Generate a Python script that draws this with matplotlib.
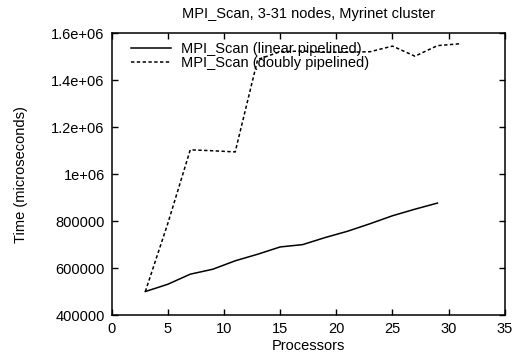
import matplotlib
matplotlib.use("Agg")
import matplotlib.pyplot as plt
from matplotlib.ticker import FixedLocator, FixedFormatter

plt.rcParams['font.family'] = ['Liberation Sans', 'DejaVu Sans']

# Processor counts and measured times (microseconds)
procs_linear = [3, 5, 7, 9, 11, 13, 15, 17, 19, 21, 23, 25, 27, 29]
time_linear = [500000, 531000, 574000, 595000, 631000, 659000, 690000,
               700000, 730000, 757000, 789000, 823000, 851000, 877000]

procs_doubly = [3, 5, 7, 9, 11, 13, 15, 17, 19, 21, 23, 25, 27, 29, 31]
time_doubly = [500000, 790000, 1104000, 1100000, 1095000, 1489000, 1522000,
               1525000, 1520000, 1520000, 1522000, 1546000, 1503000,
               1548000, 1556000]

x_ticks = [0, 5, 10, 15, 20, 25, 30, 35]
y_ticks = [400000, 600000, 800000, 1000000, 1200000, 1400000, 1600000]
y_tick_labels = ["400000", "600000", "800000", "1e+06", "1.2e+06",
                 "1.4e+06", "1.6e+06"]

FS = 10.5

fig = plt.figure(figsize=(5.12, 3.61), dpi=100)
ax = fig.add_axes([0.218, 0.1274, 0.768, 0.780])

ax.plot(procs_linear, time_linear, color='black', lw=1.1,
        label='MPI_Scan (linear pipelined)')
ax.plot(procs_doubly, time_doubly, color='black', lw=1.1,
        dashes=(2.2, 1.6), label='MPI_Scan (doubly pipelined)')

ax.set_xlim(0, 35)
ax.set_ylim(400000, 1600000)
ax.xaxis.set_major_locator(FixedLocator(x_ticks))
ax.yaxis.set_major_locator(FixedLocator(y_ticks))
ax.yaxis.set_major_formatter(FixedFormatter(y_tick_labels))

ax.tick_params(direction='in', length=4, width=1, labelsize=FS,
               top=True, right=True, pad=5)
for s in ax.spines.values():
    s.set_linewidth(1.1)

ax.set_title('MPI_Scan, 3-31 nodes, Myrinet cluster', fontsize=FS, pad=11)
ax.set_xlabel('Processors', fontsize=FS, labelpad=2)
ax.set_ylabel('Time (microseconds)', fontsize=FS, labelpad=17)

ax.legend(loc='upper left', frameon=False, fontsize=FS, handlelength=2.75,
          handletextpad=0.65, labelspacing=0.0, borderaxespad=0.0,
          bbox_to_anchor=(0.035, 0.99))

fig.savefig('out.png', dpi=100)
